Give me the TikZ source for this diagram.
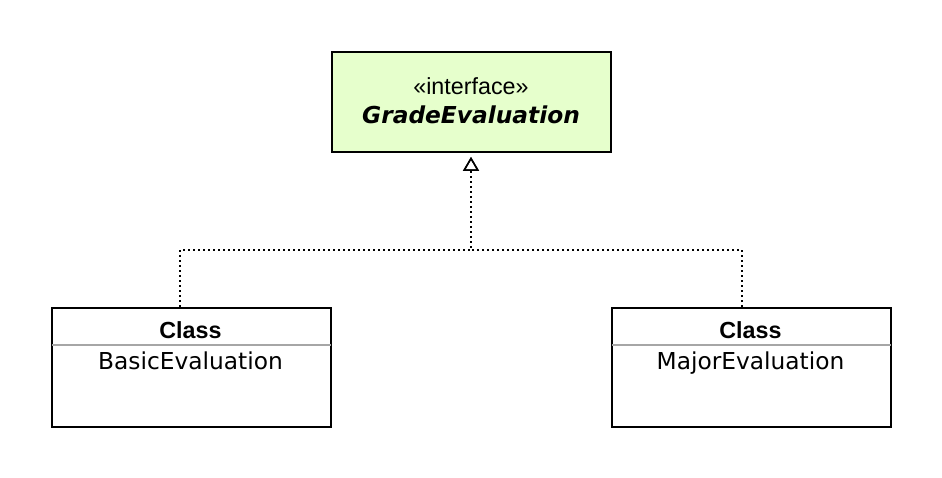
\documentclass[tikz,border=0pt]{standalone}
\usepackage{fontspec}
\setmainfont{Liberation Sans}
\newfontfamily\dejavu{DejaVu Sans}
\usetikzlibrary{arrows.meta}
\definecolor{ifill}{HTML}{E6FFCC}
\begin{document}
\begin{tikzpicture}[x=1pt,y=-1pt,
  umlbox/.style={draw=black,line width=2pt,inner sep=0pt,anchor=north west},
  lbl/.style={inner sep=0pt,anchor=base,font=\fontsize{23.3}{27}\selectfont},
  sepline/.style={gray!70,line width=2pt},
  realize/.style={line width=2pt,dash pattern=on 2pt off 3pt,
    -{Triangle[open,length=14pt,width=16pt,line width=1.5pt,sep=0pt]},shorten >=4pt}]
\useasboundingbox (0,0) rectangle (942,478);
% interface
\node[umlbox,fill=ifill,minimum width=279pt,minimum height=100pt] (iface) at (331,51) {};
\node[lbl] (st) at (471,95) {«interface»};
\node[lbl,font=\fontsize{23.3}{27}\selectfont\dejavu\bfseries\itshape] (gname) at (471,124) {GradeEvaluation};
% classes
\node[umlbox,minimum width=279pt,minimum height=119pt] (basic) at (51,307) {};
\node[lbl,font=\fontsize{23.3}{27}\selectfont\bfseries] (bc) at (190.5,338) {Class};
\draw[sepline] ([xshift=1pt,yshift=-38pt]basic.north west) -- ([xshift=-1pt,yshift=-38pt]basic.north east);
\node[lbl,font=\fontsize{23.3}{27}\selectfont\dejavu] (bn) at (190.5,369) {BasicEvaluation};
\node[umlbox,minimum width=279pt,minimum height=119pt] (major) at (611,307) {};
\node[lbl,font=\fontsize{23.3}{27}\selectfont\bfseries] (mc) at (750.5,338) {Class};
\draw[sepline] ([xshift=1pt,yshift=-38pt]major.north west) -- ([xshift=-1pt,yshift=-38pt]major.north east);
\node[lbl,font=\fontsize{23.3}{27}\selectfont\dejavu] (mn) at (750.5,369) {MajorEvaluation};
% connectors
\coordinate (j) at (471,250);
\draw[realize] ([xshift=-11.5pt]basic.north) |- (j) -- (j |- iface.south);
\draw[realize] ([xshift=-9.5pt]major.north) |- (j) -- (j |- iface.south);
\end{tikzpicture}
\end{document}
